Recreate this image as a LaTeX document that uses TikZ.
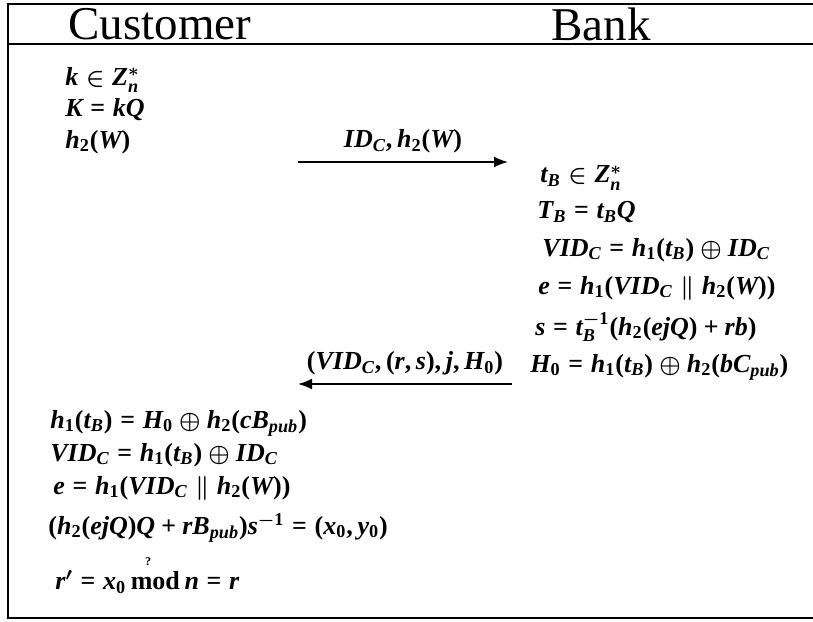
\documentclass[tikz,border=0pt]{standalone}
\usepackage[no-math]{fontspec}
\setmainfont{Liberation Serif}[NFSSFamily=libser]
\DeclareSymbolFont{letters}{TU}{libser}{bx}{it}
\DeclareSymbolFont{operators}{TU}{libser}{bx}{n}
\SetSymbolFont{symbols}{normal}{OMS}{cmsy}{b}{n}
\DeclareMathSymbol{,}{\mathpunct}{operators}{`,}
\usetikzlibrary{arrows.meta}

\begin{document}
\begin{tikzpicture}[x=0.5pt, y=-0.5pt,
    paso/.style={anchor=west, inner sep=0pt, font=\fontsize{13}{15}\selectfont},
    titulo/.style={font=\fontsize{23.5}{26}\selectfont},
    marco/.style={line width=1pt},
    mensaje/.style={line width=0.9pt, -{Latex[length=7pt, width=5.5pt]}},
    etiq/.style={font=\fontsize{13}{15}\selectfont, above=4pt, inner sep=0pt}]
  \useasboundingbox (0,0) rectangle (813,621);
  % marco y cabecera
  \draw[marco] (813,4) -| (8,618) -- (813,618);
  \draw[marco] (8,44) -- (813,44);
  \node[titulo] (cliente) at (160,24) {Customer};
  \node[titulo] (banco)   at (601,24) {Bank};
  % cliente
  \node[paso] (c1) at (65,80)  {$k \in Z_n^{*}$};
  \node[paso] (c2) at (65,110) {$K = kQ$};
  \node[paso] (c3) at (65,142) {$h_2(W)$};
  % mensaje 1
  \coordinate (m1a) at (298,162);
  \coordinate (m1b) at (508,162);
  \draw[mensaje] (m1a) -- node[etiq] {$ID_C, h_2(W)$} (m1b);
  % banco
  \node[paso] (b1) at (540,178) {$t_B \in Z_n^{*}$};
  \node[paso] (b2) at (537,212) {$T_B = t_B Q$};
  \node[paso] (b3) at (542,250) {$VID_C = h_1(t_B) \oplus ID_C$};
  \node[paso] (b4) at (538,288) {$e = h_1(VID_C \parallel h_2(W))$};
  \node[paso] (b5) at (535,327) {$s = t_B^{-1}(h_2(ejQ) + rb)$};
  \node[paso] (b6) at (530,367) {$H_0 = h_1(t_B) \oplus h_2(bC_{pub})$};
  % mensaje 2
  \coordinate (m2a) at (512,384);
  \coordinate (m2b) at (298,384);
  \draw[mensaje] (m2a) -- node[etiq] {$(VID_C, (r,s), j, H_0)$} (m2b);
  % verificacion
  \node[paso] (v1) at (50,423) {$h_1(t_B) = H_0 \oplus h_2(cB_{pub})$};
  \node[paso] (v2) at (50,455) {$VID_C = h_1(t_B) \oplus ID_C$};
  \node[paso] (v3) at (53,488) {$e = h_1(VID_C \parallel h_2(W))$};
  \node[paso] (v4) at (48,528) {$(h_2(ejQ)Q + rB_{pub})s^{-1} = (x_0, y_0)$};
  \node[font=\fontsize{6}{7}\selectfont\bfseries, inner sep=0pt] (preg) at (148,562) {?};
  \node[paso] (v5) at (55,582) {$r' = x_0\, \textbf{mod}\, n = r$};
\end{tikzpicture}
\end{document}
